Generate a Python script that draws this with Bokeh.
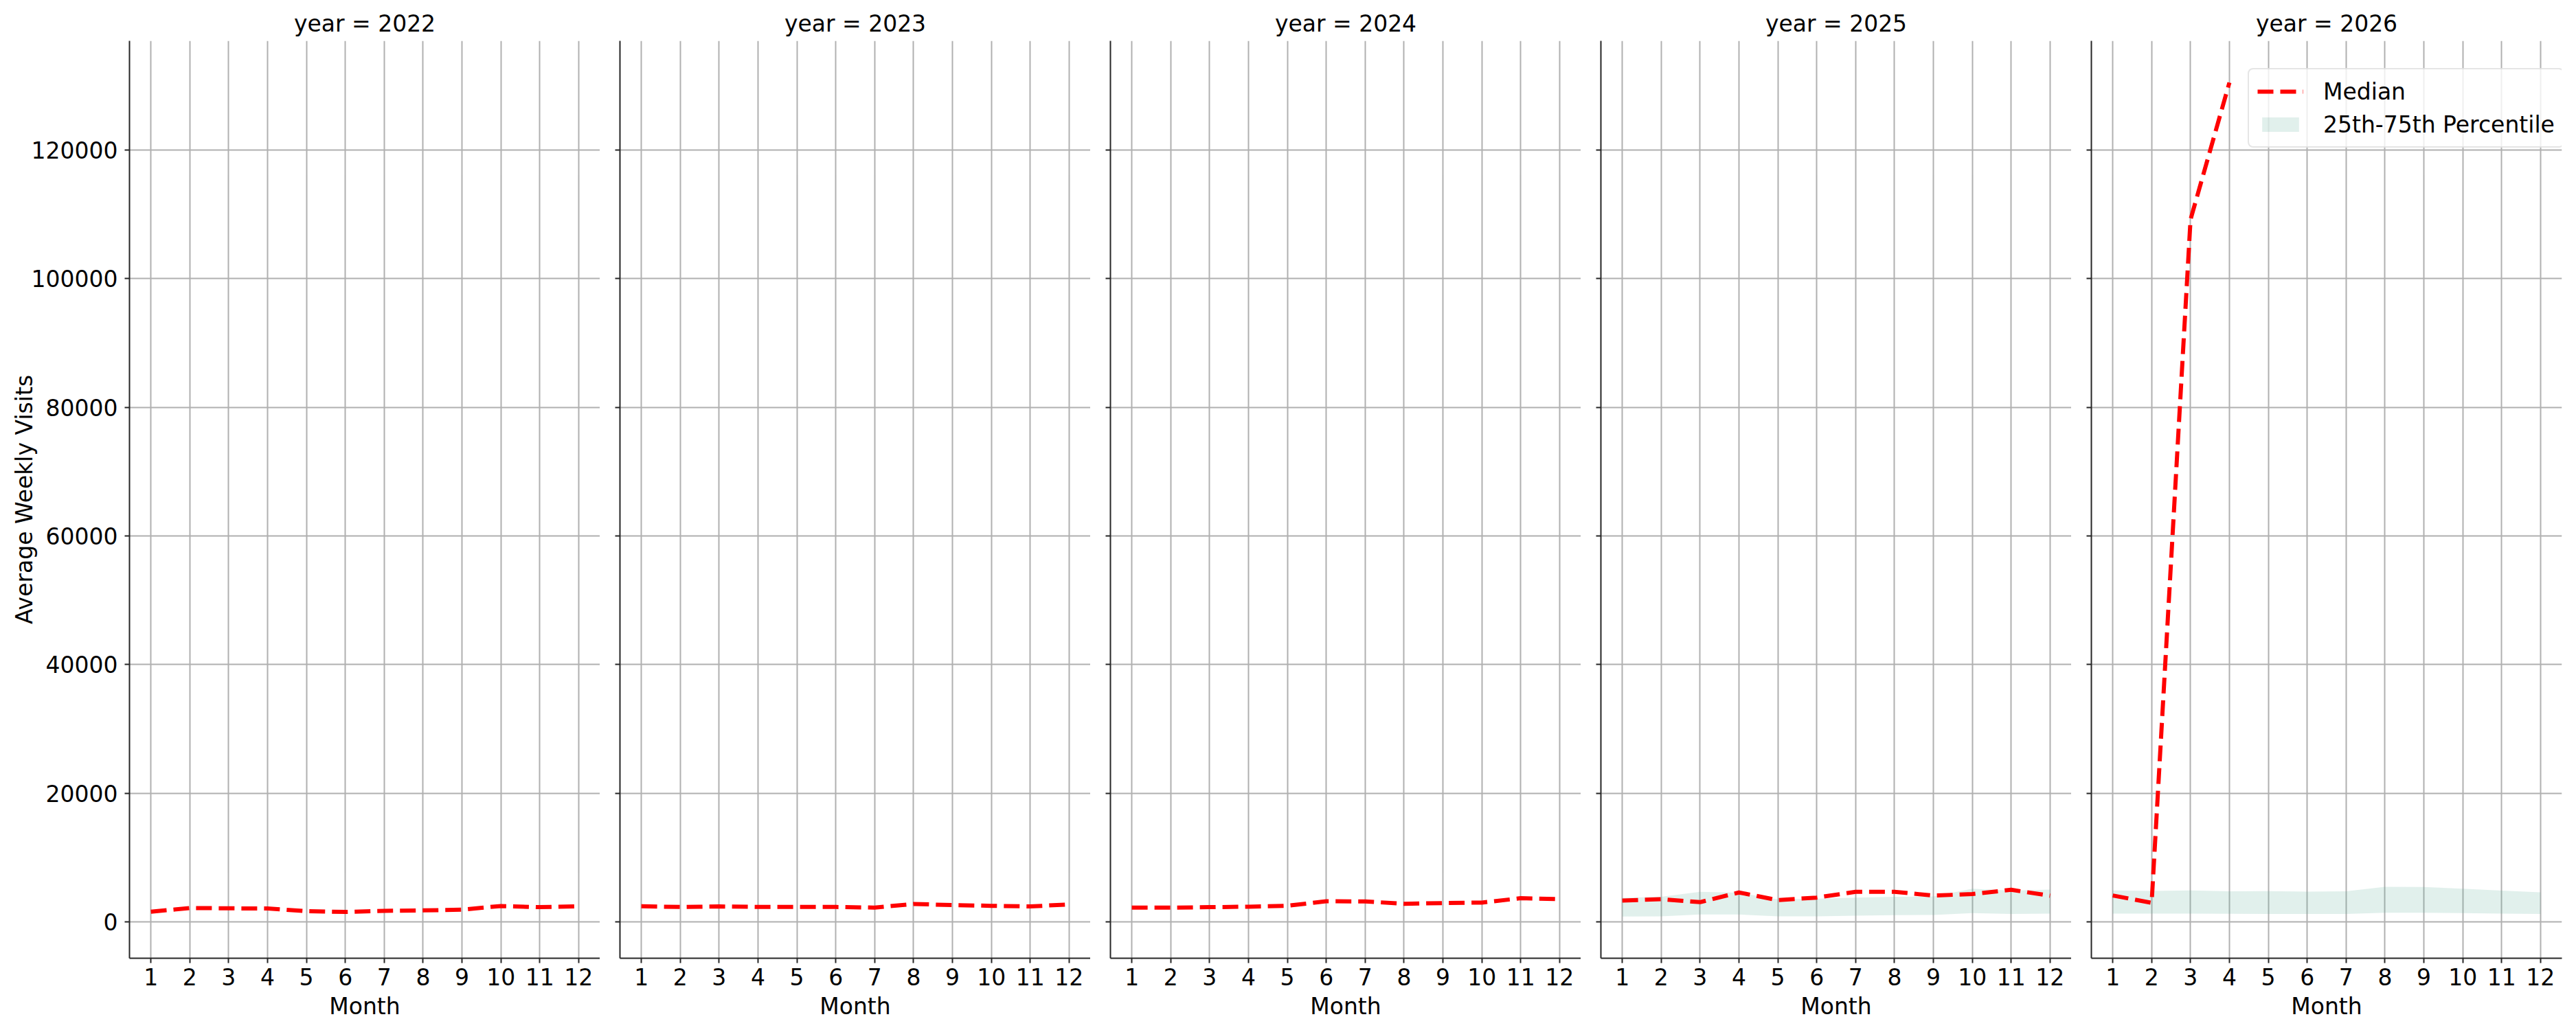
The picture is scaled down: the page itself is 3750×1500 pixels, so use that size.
import numpy as np
from bokeh.plotting import figure
from bokeh.layouts import row
from bokeh.models import (Range1d, FixedTicker, NumeralTickFormatter, CustomJSTickFormatter,
                          Legend, LegendItem)
from bokeh.embed import file_html
from bokeh.resources import INLINE

years = [2022, 2023, 2024, 2025, 2026]
months = list(range(1, 13))
month_labels = [str(m) for m in months]

median_2022 = [1570, 2140, 2100, 2070, 1670, 1530, 1710, 1780, 1890, 2460, 2280, 2420]
median_2023 = [2420, 2310, 2390, 2310, 2310, 2310, 2210, 2780, 2600, 2490, 2390, 2710]
median_2024 = [2210, 2210, 2280, 2350, 2490, 3200, 3170, 2810, 2920, 2990, 3670, 3520]
median_2025 = [3310, 3520, 3060, 4560, 3380, 3770, 4660, 4660, 4090, 4310, 4980, 4060]
median_2026 = [4090, 2960, 109200, 130500, None, None, None, None, None, None, None, None]

p25_2025 = [820, 850, 1140, 1140, 850, 850, 960, 1030, 1070, 1350, 1210, 1280]
p75_2025 = [3740, 3880, 4660, 4520, 3490, 3600, 3770, 3880, 3950, 5160, 4840, 5020]
p25_2026 = [1280, 1280, 1280, 1250, 1210, 1210, 1210, 1420, 1420, 1350, 1280, 1210]
p75_2026 = [4880, 4810, 4880, 4740, 4770, 4700, 4740, 5450, 5410, 5160, 4840, 4590]

y_ticks = [0, 20000, 40000, 60000, 80000, 100000, 120000]

medians = {2022: median_2022, 2023: median_2023, 2024: median_2024, 2025: median_2025, 2026: median_2026}
bands = {2025: (p25_2025, p75_2025), 2026: (p25_2026, p75_2026)}

FONT = "DejaVu Sans"
GRID = "#b0b0b0"
AXIS = "#262626"

# y limits: matplotlib-style 5% margins around data extent
all_vals = [v for y in years for v in medians[y] if v is not None]
for lo, hi in bands.values():
    all_vals += lo + hi
ymin, ymax = min(all_vals), max(all_vals)
pad = 0.05 * (ymax - ymin)
y_range = Range1d(ymin - pad, ymax + pad)

figs = []
for i, yr in enumerate(years):
    first = i == 0
    last = i == len(years) - 1
    p = figure(
        frame_width=685, frame_height=1336,
        min_border_left=188 if first else 29,
        min_border_right=10 if last else 0,
        min_border_top=59, min_border_bottom=100,
        x_range=Range1d(0.45, 12.55), y_range=y_range,
        output_backend="svg", toolbar_location=None,
        title="year = %d" % yr,
    )
    p.outline_line_color = None
    p.background_fill_color = "white"
    p.border_fill_color = "white"
    p.title.align = "center"
    p.title.text_font = FONT
    p.title.text_font_size = "33px"
    p.title.text_font_style = "normal"
    p.title.text_color = "black"
    p.title.standoff = 12

    for ax in (p.xaxis[0], p.yaxis[0]):
        ax.axis_line_color = AXIS
        ax.axis_line_width = 2
        ax.major_tick_line_color = AXIS
        ax.major_tick_line_width = 2
        ax.major_tick_out = 7
        ax.major_tick_in = 0
        ax.minor_tick_line_color = None
        ax.major_label_text_font = FONT
        ax.major_label_text_font_size = "33px"
        ax.major_label_text_color = "black"
        ax.axis_label_text_font = FONT
        ax.axis_label_text_font_size = "33px"
        ax.axis_label_text_font_style = "normal"
        ax.axis_label_text_color = "black"

    p.xaxis.ticker = FixedTicker(ticks=months)
    p.xaxis.major_label_overrides = {m: l for m, l in zip(months, month_labels)}
    p.xaxis.major_label_standoff = 7
    p.xaxis.axis_label = "Month"
    p.xaxis.axis_label_standoff = 8

    p.yaxis.ticker = FixedTicker(ticks=y_ticks)
    if first:
        p.yaxis.formatter = NumeralTickFormatter(format="0")
        p.yaxis.axis_label = "Average Weekly Visits"
        p.yaxis.major_label_standoff = 10
        p.yaxis.axis_label_standoff = -12
    else:
        p.yaxis.formatter = CustomJSTickFormatter(code="return ''")
        p.yaxis.major_label_standoff = 0

    p.xgrid.ticker = FixedTicker(ticks=months)
    p.ygrid.ticker = FixedTicker(ticks=y_ticks)
    for g in (p.xgrid[0], p.ygrid[0]):
        g.grid_line_color = GRID
        g.grid_line_width = 2

    band_r = None
    if yr in bands:
        lo, hi = bands[yr]
        band_r = p.varea(x=months, y1=lo, y2=hi, fill_color="#69b3a2", fill_alpha=0.2)

    med = [np.nan if v is None else v for v in medians[yr]]
    line_r = p.line(x=months, y=med, line_color="red", line_width=6, line_dash="23 10")

    if last:
        legend = Legend(
            items=[LegendItem(label="Median", renderers=[line_r]),
                   LegendItem(label="25th-75th Percentile", renderers=[band_r])],
            location=(228, 1180),
            label_text_font=FONT, label_text_font_size="33px", label_text_color="black",
            glyph_width=67, glyph_height=26, label_height=40,
            label_standoff=29, spacing=8, padding=12, margin=0,
            border_line_color="#cccccc", border_line_width=2,
            background_fill_color="white", background_fill_alpha=0.8,
        )
        if "border_radius" in Legend.properties():
            legend.border_radius = 8
        p.add_layout(legend, "center")
    figs.append(p)

layout = row(*figs)
open("out.html", "w").write(file_html(layout, INLINE))
